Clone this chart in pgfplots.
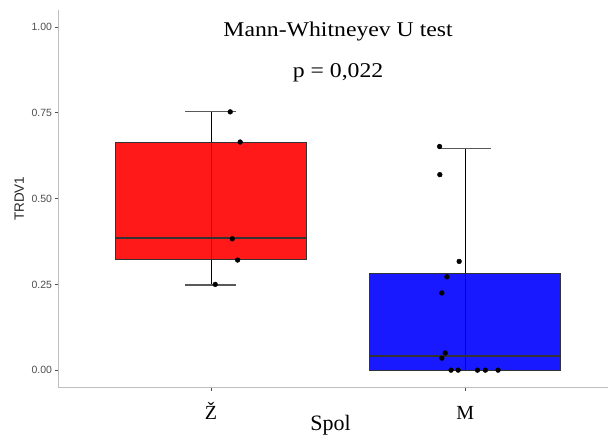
\documentclass[border=0pt]{standalone}
\usepackage{fontspec}
\setmainfont{Liberation Serif}
\setsansfont{Liberation Sans}
\usepackage{pgfplots}
\pgfplotsset{compat=1.18}

\definecolor{edge}{HTML}{333333}
\definecolor{axgray}{HTML}{BEBEBE}
\definecolor{lblgray}{HTML}{4D4D4D}

\begin{document}
\begin{tikzpicture}
\useasboundingbox (0,0) rectangle (608pt,435pt);
\begin{axis}[
    at={(58.3pt,47.7pt)}, anchor=south west,
    scale only axis,
    width=549.4pt, height=377.3pt,
    xmin=0.4, xmax=2.56,
    ymin=-0.05, ymax=1.05,
    axis x line*=bottom,
    axis y line*=left,
    axis line style={axgray, line width=0.9pt},
    tick align=outside,
    major tick length=3.7pt,
    tick style={lblgray, line width=0.8pt},
    xtick={1,2},
    xticklabels={Ž,M},
    xticklabel style={font=\fontsize{20}{20}\selectfont, anchor=base, yshift=-29pt},
    ytick={0,0.25,0.5,0.75,1},
    yticklabels={0.00,0.25,0.50,0.75,1.00},
    yticklabel style={font=\fontsize{10.5}{12}\sffamily, text=lblgray, xshift=1pt},
    /pgf/number format/assume math mode=true,
    xlabel={Spol},
    xlabel style={at={(rel axis cs:0.4955,0)}, anchor=base, yshift=-43.7pt,
                  font=\fontsize{22}{22}\selectfont},
    ylabel={TRDV1},
    ylabel style={at={(rel axis cs:0,0.5)}, anchor=center, yshift=39pt,
                  font=\fontsize{13.5}{14}\sffamily, text=black!85},
    clip=false,
]
% whisker lines (under the boxes)
\addplot[black, line width=0.8pt] coordinates {(1,0.248) (1,0.755)};
\addplot[black, line width=0.8pt] coordinates {(2,0) (2,0.647)};
% boxes
\addplot[fill=red, fill opacity=0.9, draw=edge, line width=0.8pt]
  coordinates {(0.625,0.3225) (1.375,0.3225) (1.375,0.665) (0.625,0.665)} -- cycle;
\addplot[fill=blue, fill opacity=0.9, draw=edge, line width=0.8pt]
  coordinates {(1.625,0) (2.375,0) (2.375,0.2835) (1.625,0.2835)} -- cycle;
% medians
\addplot[edge, line width=2pt] coordinates {(0.625,0.385) (1.375,0.385)};
\addplot[edge, line width=2pt] coordinates {(1.625,0.041) (2.375,0.041)};
% caps
\addplot[black!65, line width=1.2pt] coordinates {(0.9,0.755) (1.1,0.755)};
\addplot[black!65, line width=1.2pt] coordinates {(0.9,0.248) (1.1,0.248)};
\addplot[black!65, line width=1.2pt] coordinates {(1.9,0.647) (2.1,0.647)};
% jittered points
\addplot[only marks, mark=*, mark size=2.4pt, black] coordinates {
  (1.076,0.753) (1.115,0.665) (1.084,0.383) (1.105,0.321) (1.017,0.250)
};
\addplot[only marks, mark=*, mark size=2.4pt, black] coordinates {
  (1.899,0.652) (1.900,0.570) (1.976,0.317) (1.928,0.272) (1.908,0.225)
  (1.921,0.050) (1.908,0.035) (1.944,0) (1.972,0) (2.048,0) (2.079,0) (2.129,0)
};
% annotation
\node[anchor=base, font=\fontsize{21}{21}\selectfont] at (axis cs:1.5,0.973)
  {\scalebox{1.13}[1]{Mann-Whitneyev U test}};
\node[anchor=base, font=\fontsize{21}{21}\selectfont] at (axis cs:1.5,0.853)
  {\scalebox{1.13}[1]{p = 0,022}};
\end{axis}
\end{tikzpicture}
\end{document}
